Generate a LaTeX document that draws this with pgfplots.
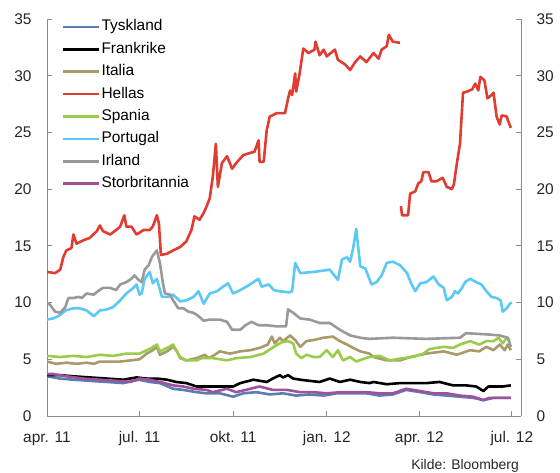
\documentclass[border=0pt]{standalone}
\usepackage{pgfplots}
\pgfplotsset{compat=1.18}
\usepackage{fontspec}
\setmainfont{Liberation Sans}
\definecolor{cDE}{HTML}{5B7DB1}
\definecolor{cFR}{HTML}{000000}
\definecolor{cIT}{HTML}{A89A6A}
\definecolor{cGR}{HTML}{E03C31}
\definecolor{cES}{HTML}{9BCB4B}
\definecolor{cPT}{HTML}{5BC8F5}
\definecolor{cIE}{HTML}{999999}
\definecolor{cUK}{HTML}{A0519C}
\definecolor{axgray}{HTML}{8C8C8C}
\tikzset{ser/.style={#1, line width=2.6bp, line join=round}}
\begin{document}
\begin{tikzpicture}
\path[use as bounding box] (-47bp,-57bp) rectangle (513bp,416bp);
\pgfplotsset{every axis/.style={
  at={(0,0)}, anchor=south west, scale only axis,
  width=474bp, height=397bp,
  xmin=0, xmax=466, ymin=0, ymax=35,
  ytick={0,5,...,35},
  tick align=inside, major tick length=5bp,
  axis line style={axgray, line width=0.8bp},
  tick style={axgray, line width=0.8bp},
  /pgf/number format/assume math mode=true,
  tick label style={font=\fontsize{15.5}{18}\selectfont, text=black!85},
}}
\begin{axis}[
  axis x line*=bottom, axis y line*=left,
  xtick={0,91,183,275,366,457},
  xticklabels={apr. 11, jul. 11, okt. 11, jan. 12, apr. 12, jul. 12},
  xticklabel style={yshift=-12bp},
  yticklabel style={xshift=-12bp},
  unbounded coords=jump,
  legend cell align=left,
  legend style={draw=none, fill=none, at={(rel axis cs:0.03,1.002)}, anchor=north west,
    font=\fontsize{15.5}{18}\selectfont, row sep=5.4bp, inner sep=0pt,
    nodes={inner sep=1.5bp, text height=11bp, text depth=3bp}},
  legend image code/.code={\draw[#1] (0bp,0bp) -- (36bp,0bp);},
]
\addplot[ser=cDE] coordinates {(0,3.5)(13,3.3)(26,3.2)(42,3.1)(59,3.0)(75,2.9)(90,3.2)(101,3.0)(111,2.9)(124,2.4)(134,2.3)(147,2.1)(157,2.0)(170,2.0)(183,1.7)(193,2.0)(206,2.1)(219,1.9)(232,2.0)(245,1.8)(258,1.9)(272,1.8)(285,2.0)(298,2.0)(314,2.0)(327,1.8)(340,1.9)(353,2.3)(367,2.1)(380,1.9)(393,1.8)(406,1.7)(419,1.6)(429,1.4)(439,1.6)(456,1.6)};
\addlegendentry{Tyskland}
\addplot[ser=cFR] coordinates {(0,3.6)(13,3.6)(26,3.5)(42,3.4)(59,3.3)(75,3.2)(88,3.4)(98,3.3)(108,3.3)(118,3.2)(127,3.0)(137,2.9)(147,2.6)(157,2.6)(170,2.6)(183,2.6)(190,2.9)(203,3.2)(216,3.0)(222,3.3)(229,3.6)(232,3.4)(237,3.6)(242,3.3)(249,3.2)(258,3.1)(268,3.0)(278,3.3)(288,3.0)(298,3.2)(308,3.0)(317,2.9)(321,3.0)(334,2.8)(347,2.9)(360,2.9)(373,2.9)(386,3.0)(399,2.7)(412,2.7)(422,2.6)(429,2.2)(434,2.6)(442,2.6)(448,2.6)(456,2.7)};
\addlegendentry{Frankrike}
\addplot[ser=cIT] coordinates {(0,4.8)(9,4.6)(19,4.7)(29,4.6)(39,4.7)(46,4.6)(52,4.8)(62,4.8)(72,4.8)(82,4.9)(91,5.0)(98,5.5)(104,5.8)(108,6.1)(111,5.4)(118,5.7)(124,6.1)(127,5.8)(131,5.1)(137,4.9)(147,5.1)(155,5.4)(159,5.1)(165,5.4)(170,5.7)(180,5.5)(190,5.7)(200,5.8)(209,6.0)(217,6.3)(221,7.0)(224,6.4)(229,6.9)(232,6.6)(239,7.1)(244,6.7)(249,6.1)(255,6.6)(262,6.7)(272,6.9)(281,7.0)(288,6.6)(295,6.3)(301,6.0)(308,5.7)(317,5.5)(321,5.2)(334,4.9)(347,4.9)(357,5.2)(373,5.5)(390,5.7)(403,5.4)(416,5.8)(425,5.7)(432,6.1)(439,5.8)(445,6.3)(450,5.8)(453,6.3)(456,5.8)};
\addlegendentry{Italia}
\addplot[ser=cGR] coordinates {(0,12.7)(8,12.6)(13,12.9)(16,14.0)(19,14.6)(24,14.8)(26,16.0)(29,15.2)(36,15.5)(42,15.7)(49,16.3)(52,16.8)(55,16.3)(62,16.0)(68,16.4)(72,16.7)(76,17.7)(78,16.7)(83,16.7)(88,16.0)(95,16.4)(101,16.4)(104,16.7)(108,17.7)(110,17.0)(112,14.2)(118,14.3)(124,14.6)(131,14.9)(137,15.4)(142,16.4)(145,17.6)(150,17.3)(154,17.9)(157,18.5)(160,19.2)(163,21.1)(166,24.0)(168,20.2)(172,22.3)(177,22.9)(182,21.8)(186,22.3)(193,23.0)(200,23.2)(204,23.3)(208,24.3)(209,22.4)(213,22.4)(216,25.2)(219,26.4)(226,26.7)(234,26.7)(237,28.0)(239,28.7)(241,28.3)(244,30.2)(245,28.6)(248,30.0)(252,32.4)(257,32.0)(263,32.3)(264,33.0)(268,31.8)(272,32.3)(275,31.7)(283,32.3)(286,31.4)(293,31.0)(298,30.5)(303,31.2)(308,31.7)(314,31.2)(321,32.0)(326,31.5)(329,32.3)(334,32.6)(336,33.6)(340,33.0)(347,32.9)(347.5,nan)(348,18.5)(349,17.7)(355,17.7)(357,19.6)(362,19.8)(365,20.5)(368,20.7)(370,21.5)(375,21.5)(378,20.7)(383,20.7)(389,21.0)(393,20.2)(398,20.0)(400,20.4)(403,22.3)(406,24.0)(409,28.5)(413,28.6)(418,28.8)(421,29.3)(424,28.7)(426,29.9)(430,29.6)(433,28.0)(437,28.3)(439,28.5)(442,26.4)(445,25.7)(447,26.5)(452,26.4)(453,26.1)(456,25.4)};
\addlegendentry{Hellas}
\addplot[ser=cES] coordinates {(0,5.3)(13,5.2)(26,5.3)(39,5.2)(52,5.4)(65,5.3)(78,5.5)(91,5.5)(98,5.8)(103,6.0)(108,6.3)(111,5.7)(118,6.0)(124,6.3)(127,5.8)(131,5.2)(137,4.9)(147,4.9)(152,5.1)(163,5.1)(177,4.9)(186,5.1)(200,5.2)(213,5.5)(223,6.1)(231,6.5)(237,6.6)(242,6.4)(245,5.5)(250,5.1)(255,5.4)(262,5.2)(268,5.2)(275,5.8)(281,5.2)(286,5.8)(291,4.9)(298,5.2)(304,4.8)(313,5.1)(317,5.2)(327,5.3)(337,4.9)(350,5.1)(360,5.2)(370,5.5)(376,5.9)(383,6.0)(390,6.1)(399,6.0)(406,6.3)(416,6.6)(425,6.3)(432,6.6)(439,6.6)(444,6.9)(448,6.4)(452,6.9)(455,6.7)};
\addlegendentry{Spania}
\addplot[ser=cPT] coordinates {(0,8.5)(6,8.6)(13,8.9)(18,9.3)(26,9.5)(32,9.5)(39,9.3)(46,8.8)(52,9.3)(59,9.4)(65,9.6)(72,10.2)(78,10.8)(85,11.3)(88,11.6)(91,10.7)(93,10.8)(96,12.1)(101,12.7)(104,11.7)(108,12.1)(113,10.5)(119,10.5)(124,10.7)(131,10.1)(137,10.2)(144,10.5)(149,11.0)(154,9.9)(160,10.8)(167,11.0)(173,11.4)(178,11.7)(183,10.8)(190,11.1)(196,11.4)(203,11.8)(208,12.1)(211,11.4)(218,11.6)(223,11.1)(229,11.0)(238,10.9)(241,11.0)(244,13.5)(249,12.6)(262,12.7)(278,12.9)(286,12.0)(290,13.8)(295,14.0)(298,13.6)(301,14.8)(304,16.5)(308,13.2)(313,13.0)(319,11.6)(324,11.8)(329,12.4)(334,13.5)(340,13.6)(347,13.3)(354,12.6)(358,11.7)(362,11.0)(367,11.7)(373,11.8)(380,12.3)(385,11.6)(390,11.3)(393,10.2)(398,10.5)(401,11.0)(404,10.8)(408,11.3)(411,11.8)(416,12.1)(422,11.8)(427,11.6)(432,11.0)(437,10.5)(442,10.4)(446,10.2)(448,9.2)(452,9.5)(455,9.9)(457,10.0)};
\addlegendentry{Portugal}
\addplot[ser=cIE] coordinates {(0,10.0)(3,9.8)(8,9.2)(13,9.1)(18,9.6)(21,10.4)(26,10.4)(31,10.5)(34,10.4)(39,10.8)(46,10.7)(50,11.0)(55,11.3)(62,11.3)(68,11.1)(72,11.6)(78,11.8)(83,12.1)(86,12.4)(90,12.0)(93,11.8)(96,12.9)(100,13.3)(103,14.0)(108,14.6)(111,13.5)(114,11.7)(116,10.8)(121,10.7)(124,10.2)(129,9.5)(134,9.5)(139,9.2)(144,9.1)(149,8.8)(154,8.4)(160,8.5)(170,8.5)(177,8.3)(182,7.6)(190,7.6)(195,8.0)(201,8.3)(208,8.0)(216,8.0)(226,7.9)(235,7.9)(237,9.4)(242,9.1)(249,8.6)(258,8.5)(268,8.2)(278,8.2)(288,7.6)(298,7.1)(308,6.9)(317,6.8)(340,6.9)(373,6.8)(406,6.9)(412,7.3)(432,7.2)(445,7.1)(453,6.9)(456,6.1)};
\addlegendentry{Irland}
\addplot[ser=cUK] coordinates {(0,3.7)(6,3.7)(19,3.5)(36,3.3)(52,3.2)(68,3.1)(82,3.0)(91,3.3)(101,3.2)(111,3.0)(124,2.7)(134,2.6)(144,2.4)(157,2.3)(163,2.1)(177,2.4)(186,2.1)(200,2.4)(209,2.6)(222,2.3)(236,2.3)(249,2.1)(262,2.1)(275,2.0)(288,2.1)(301,2.1)(314,2.1)(327,2.0)(340,2.0)(353,2.4)(367,2.2)(380,2.0)(393,2.0)(406,1.8)(419,1.7)(429,1.4)(435,1.6)(445,1.6)(456,1.6)};
\addlegendentry{Storbritannia}
\end{axis}
\begin{axis}[
  axis x line=none, axis y line*=right,
  yticklabel style={xshift=12bp},
]
\addplot[draw=none] coordinates {(0,0)};
\end{axis}
\node[anchor=base east, font=\fontsize{14}{16}\selectfont, text=black!85, inner sep=0pt] at (472bp,-53bp) {Kilde: Bloomberg};
\end{tikzpicture}
\end{document}
